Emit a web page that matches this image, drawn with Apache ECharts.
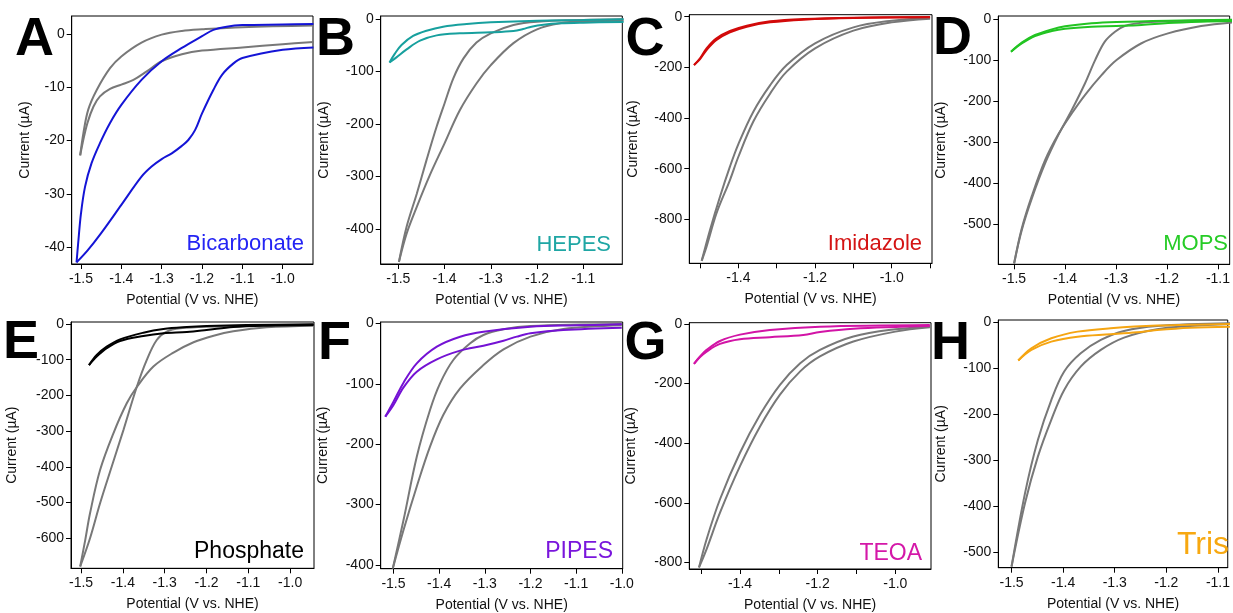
<!DOCTYPE html>
<html><head><meta charset="utf-8">
<script src="https://cdn.jsdelivr.net/npm/echarts@6/dist/echarts.min.js"></script>
<style>html,body{margin:0;padding:0;background:#fff}#c{width:1233px;height:613px}</style>
</head><body><div id="c"></div>
<script>
// ---------- DATA (V vs NHE, µA) ----------
// A – Bicarbonate
const bicarbFwd = [[-0.924,-2.5],[-1.0,-2.95],[-1.1,-4.5],[-1.122,-5.5],[-1.15,-7.6],[-1.172,-10.5],[-1.2,-14.9],[-1.217,-18],[-1.234,-19.9],[-1.25,-21],[-1.275,-22.4],[-1.3,-23.5],[-1.325,-24.9],[-1.35,-26.8],[-1.4,-32.1],[-1.45,-37.4],[-1.483,-40.6],[-1.511,-42.9]];
const bicarbRev = [[-1.511,-42.9],[-1.507,-39.3],[-1.5,-33.7],[-1.49,-28.7],[-1.474,-24.3],[-1.453,-20.5],[-1.428,-16.7],[-1.4,-13.3],[-1.35,-8.6],[-1.3,-5.1],[-1.25,-2.6],[-1.2,-0.4],[-1.172,0.8],[-1.139,1.4],[-1.1,1.7],[-1.0,1.8],[-0.924,1.9]];
const bicarbGrayFwd = [[-0.924,-1.5],[-1.0,-1.9],[-1.1,-2.5],[-1.2,-3.1],[-1.25,-3.8],[-1.3,-5.1],[-1.337,-7.0],[-1.37,-8.6],[-1.4,-9.5],[-1.428,-10.3],[-1.453,-11.7],[-1.469,-13.6],[-1.484,-16.7],[-1.496,-20.5],[-1.502,-22.8]];
const bicarbGrayRev = [[-1.502,-22.8],[-1.494,-18.6],[-1.482,-14.2],[-1.461,-10.5],[-1.428,-6.4],[-1.4,-4.2],[-1.35,-1.6],[-1.3,-0.1],[-1.25,0.6],[-1.2,0.9],[-1.1,1.3],[-0.924,1.6]];
// B – HEPES
const hepesFwd = [[-1.013,-5.7],[-1.1,-7.0],[-1.15,-8.3],[-1.186,-10.8],[-1.212,-14.6],[-1.23,-19.1],[-1.251,-22.9],[-1.3,-25.4],[-1.367,-27.3],[-1.417,-31.2],[-1.453,-41.3],[-1.482,-57.9],[-1.504,-73.1],[-1.519,-83]];
const hepesRev = [[-1.519,-83],[-1.507,-65.5],[-1.493,-49.6],[-1.468,-32.4],[-1.439,-22.3],[-1.403,-14.6],[-1.352,-9.5],[-1.3,-6.4],[-1.2,-3.2],[-1.1,-1.9],[-1.013,-0.6]];
const hepesGray1 = [[-1.4986,-463],[-1.482,-396],[-1.46,-333],[-1.439,-269],[-1.417,-205],[-1.4,-161],[-1.381,-113],[-1.359,-75],[-1.331,-45],[-1.3,-27.3],[-1.251,-11.4],[-1.2,-5.1],[-1.1,-1.9],[-1.013,-0.6]];
const hepesGray2 = [[-1.4986,-463],[-1.482,-409],[-1.46,-358],[-1.432,-298],[-1.4,-237],[-1.367,-174],[-1.331,-123],[-1.3,-88],[-1.251,-46],[-1.2,-19.7],[-1.15,-8.3],[-1.1,-4.5],[-1.013,-3.2]];
// C – Imidazole
const imidFwd = [[-1.5157,-191],[-1.5,-167],[-1.483,-131.6],[-1.457,-92],[-1.422,-62],[-1.378,-39.5],[-1.317,-22.4],[-1.23,-11.8],[-1.1,-5.3],[-0.9,-2.6]];
const imidRev = [[-1.5157,-191],[-1.5,-164],[-1.483,-125],[-1.457,-85.5],[-1.422,-56.6],[-1.378,-35.5],[-1.317,-18.4],[-1.23,-9.2],[-1.1,-3.9],[-0.9,-1.3]];
const imidGray1 = [[-1.4957,-964],[-1.474,-842],[-1.448,-711],[-1.422,-592],[-1.4,-503],[-1.361,-375],[-1.317,-270],[-1.274,-191],[-1.2,-105],[-1.1,-42],[-1.0,-15.8],[-0.9,-3.9]];
const imidGray2 = [[-1.4957,-964],[-1.483,-908],[-1.457,-776],[-1.422,-645],[-1.4,-553],[-1.361,-414],[-1.317,-303],[-1.274,-217],[-1.2,-125],[-1.1,-55],[-1.0,-22.4],[-0.9,-7.9]];
// D – MOPS
const mopsFwd = [[-1.506,-79.5],[-1.485,-59.3],[-1.459,-41.4],[-1.426,-29.2],[-1.4,-23.5],[-1.348,-18.7],[-1.299,-17],[-1.25,-14.6],[-1.198,-9.7],[-1.133,-6.5],[-1.071,-4.9]];
const mopsRev = [[-1.506,-79.5],[-1.485,-57.6],[-1.459,-39],[-1.426,-25.2],[-1.4,-17.9],[-1.348,-10.6],[-1.299,-7.3],[-1.198,-4.1],[-1.071,-1.6]];
const mopsGray1 = [[-1.5,-595],[-1.485,-514],[-1.465,-436],[-1.439,-351],[-1.413,-282],[-1.387,-222],[-1.361,-157],[-1.341,-100],[-1.322,-55],[-1.302,-31],[-1.283,-17],[-1.25,-8.9],[-1.198,-5.7],[-1.071,-2.4]];
const mopsGray2 = [[-1.5,-595],[-1.485,-510],[-1.465,-430],[-1.439,-343],[-1.413,-280],[-1.387,-230],[-1.361,-185],[-1.328,-136],[-1.299,-100],[-1.25,-59],[-1.198,-35],[-1.133,-17],[-1.071,-8.1]];
// E – Phosphate
const phosFwd = [[-1.481,-115],[-1.4625,-91.4],[-1.4386,-68],[-1.4067,-47.6],[-1.351,-33.6],[-1.303,-26.1],[-1.247,-22.4],[-1.2,-16.8],[-1.136,-8.4],[-1.056,-4.7],[-0.944,-2.8]];
const phosRev = [[-1.481,-115],[-1.4625,-86.8],[-1.4386,-63.5],[-1.4067,-42.9],[-1.351,-24.3],[-1.303,-14],[-1.247,-8.4],[-1.2,-5.6],[-1.104,-2.8],[-0.944,-0.9]];
const phosGray1 = [[-1.502,-679],[-1.4785,-600],[-1.4545,-502],[-1.4266,-399],[-1.3987,-297],[-1.367,-177],[-1.343,-101],[-1.319,-44.8],[-1.295,-21.5],[-1.263,-12.1],[-1.2,-7.5],[-0.944,-1.9]];
const phosGray2 = [[-1.502,-679],[-1.49,-605],[-1.4785,-530],[-1.4545,-409],[-1.4226,-306],[-1.3907,-222],[-1.367,-177],[-1.327,-119],[-1.279,-80],[-1.231,-51],[-1.183,-32.7],[-1.136,-20.5],[-1.056,-9.3],[-0.944,-4.7]];
// F – PIPES
const pipesFwd = [[-1.518,-154.5],[-1.5,-135],[-1.478,-106],[-1.449,-80],[-1.405,-59.6],[-1.354,-45.2],[-1.303,-37],[-1.259,-28.7],[-1.23,-22],[-1.2,-16.6],[-1.128,-11],[-1.0,-7.2]];
const pipesRev = [[-1.518,-154.5],[-1.5,-129.7],[-1.478,-98.2],[-1.449,-66.2],[-1.405,-38.6],[-1.354,-22.1],[-1.303,-13.8],[-1.2,-5.5],[-1.099,-3.3],[-1.0,-1.7]];
const pipesGray1 = [[-1.5015,-405.5],[-1.478,-325.5],[-1.449,-220.7],[-1.42,-143.4],[-1.398,-99.3],[-1.369,-60.7],[-1.332,-33.1],[-1.303,-19.3],[-1.259,-9.9],[-1.2,-4.4],[-1.0,-1.1]];
const pipesGray2 = [[-1.5015,-405.5],[-1.478,-342],[-1.449,-270],[-1.42,-204],[-1.391,-151.7],[-1.354,-107.6],[-1.303,-69],[-1.259,-43],[-1.2,-22],[-1.128,-9.4],[-1.0,-3.3]];
// G – TEOA
const teoaFwd = [[-1.5185,-133.7],[-1.503,-111],[-1.486,-92.5],[-1.4515,-66.9],[-1.4,-51.3],[-1.323,-44.6],[-1.237,-36.8],[-1.194,-26.7],[-1.108,-15.6],[-0.911,-6.7]];
const teoaRev = [[-1.5185,-133.7],[-1.503,-109],[-1.486,-87],[-1.4515,-57],[-1.4,-35.7],[-1.323,-20],[-1.194,-8.9],[-0.911,-3.3]];
const teoaGray1 = [[-1.5056,-816.7],[-1.486,-722],[-1.4515,-588],[-1.4,-432],[-1.348,-304],[-1.297,-204],[-1.245,-131.5],[-1.194,-87],[-1.108,-42],[-1.0,-17.8],[-0.911,-8.9]];
const teoaGray2 = [[-1.5056,-816.7],[-1.486,-755],[-1.4515,-633],[-1.4,-477],[-1.348,-343],[-1.297,-237],[-1.245,-159],[-1.194,-109],[-1.108,-59],[-1.0,-25.6],[-0.911,-11.1]];
// H – Tris
const trisFwd = [[-1.487,-83],[-1.4616,-60],[-1.423,-42],[-1.372,-31.2],[-1.308,-26.1],[-1.257,-21.7],[-1.218,-16.7],[-1.154,-11.6],[-1.075,-9.4]];
const trisRev = [[-1.487,-83],[-1.4616,-56.5],[-1.423,-34.8],[-1.372,-20.3],[-1.308,-13],[-1.218,-7.2],[-1.075,-3.6]];
const trisGray1 = [[-1.5,-531],[-1.474,-372],[-1.449,-256],[-1.423,-169],[-1.398,-107],[-1.366,-67.4],[-1.327,-38.4],[-1.282,-18.8],[-1.218,-8],[-1.075,-2.2]];
const trisGray2 = [[-1.5,-531],[-1.474,-393.5],[-1.449,-292],[-1.423,-212],[-1.398,-147],[-1.366,-96.4],[-1.327,-60],[-1.282,-33.3],[-1.218,-15.2],[-1.154,-8],[-1.075,-3.6]];

// ---------- TICK LABELS ----------
const xTicksA = [-1.5,-1.4,-1.3,-1.2,-1.1,-1.0], yTicksA = [-40,-30,-20,-10,0];
const xTicksB = [-1.5,-1.4,-1.3,-1.2,-1.1], yTicksB = [-400,-300,-200,-100,0];
const xTicksC = [-1.4,-1.2,-1.0], xMinorC = [-1.5,-1.3,-1.1,-0.9], yTicksC = [-800,-600,-400,-200,0];
const xTicksD = [-1.5,-1.4,-1.3,-1.2,-1.1], yTicksD = [-500,-400,-300,-200,-100,0];
const xTicksE = [-1.5,-1.4,-1.3,-1.2,-1.1,-1.0], yTicksE = [-600,-500,-400,-300,-200,-100,0];
const xTicksF = [-1.5,-1.4,-1.3,-1.2,-1.1,-1.0], yTicksF = [-400,-300,-200,-100,0];
const xTicksG = [-1.4,-1.2,-1.0], xMinorG = [-1.5,-1.3,-1.1,-0.9], yTicksG = [-800,-600,-400,-200,0];
const xTicksH = [-1.5,-1.4,-1.3,-1.2,-1.1], yTicksH = [-500,-400,-300,-200,-100,0];

const labels = ['Bicarbonate','HEPES','Imidazole','MOPS','Phosphate','PIPES','TEOA','Tris'];
const letters = ['A','B','C','D','E','F','G','H'];

// ---------- LAYOUT ----------
const FONT = "'Liberation Sans', Arial, Helvetica, sans-serif";
const GRAY = '#787878';
const panels = [
  {g:[71.7,16,241.3,248], x:[-1.523,-0.925], y:[-43.2,3.4], xt:xTicksA, yt:yTicksA, gap:40, color:'#1414d6', tcolor:'#2424f4', curves:[bicarbGrayFwd,bicarbGrayRev], col:[bicarbFwd,bicarbRev], lab:[304,244,22], let:[15,40]},
  {g:[380.7,16,241.6,248], x:[-1.538,-1.0157], y:[-467,5.7], xt:xTicksB, yt:yTicksB, gap:50, color:'#17a09e', tcolor:'#1fa6a4', curves:[hepesGray1,hepesGray2], col:[hepesFwd,hepesRev], lab:[611,244.5,22], let:[316,40.5]},
  {g:[689.3,14.7,242.7,248.6], x:[-1.528,-0.895], y:[-973.7,7.9], xt:xTicksC, xm:xMinorC, yt:yTicksC, gap:49, color:'#d20a0a', tcolor:'#d41414', curves:[imidGray1,imidGray2], col:[imidFwd,imidRev], lab:[922,244,22], let:[625.5,40.5]},
  {g:[998.3,16,231.7,248.3], x:[-1.531,-1.077], y:[-597,7.3], xt:xTicksD, yt:yTicksD, gap:50, color:'#22c422', tcolor:'#26cc26', curves:[mopsGray1,mopsGray2], col:[mopsFwd,mopsRev], lab:[1228,244,22], let:[933,39.5]},
  {g:[71,322,243,246.3], x:[-1.524,-0.943], y:[-684,5.6], xt:xTicksE, yt:yTicksE, gap:52, color:'#000000', tcolor:'#000000', curves:[phosGray1,phosGray2], col:[phosFwd,phosRev], lab:[304,551.5,23], let:[3,343]},
  {g:[380.7,322,242,246.7], x:[-1.528,-0.998], y:[-406,2.2], xt:xTicksF, yt:yTicksF, gap:51, color:'#7412d4', tcolor:'#7a16dc', curves:[pipesGray1,pipesGray2], col:[pipesFwd,pipesRev], lab:[613,551.5,23], let:[318,344]},
  {g:[689.3,322.7,241.7,247.3], x:[-1.5306,-0.908], y:[-822,4.3], xt:xTicksG, xm:xMinorG, yt:yTicksG, gap:51, color:'#d214a6', tcolor:'#d418a8', curves:[teoaGray1,teoaGray2], col:[teoaFwd,teoaRev], lab:[922,553.5,23], let:[624.5,344.5]},
  {g:[998.3,320,231.7,247.7], x:[-1.5257,-1.081], y:[-533.5,5], xt:xTicksH, yt:yTicksH, gap:50, color:'#f5a512', tcolor:'#f7a810', curves:[trisGray1,trisGray2], col:[trisFwd,trisRev], lab:[1229,545,32], let:[931,344]}
];

const grid = [], xAxis = [], yAxis = [], series = [], graphic = [];
panels.forEach((p, i) => {
  grid.push({left:p.g[0], top:p.g[1], width:p.g[2], height:p.g[3], show:true, borderColor:'#000', borderWidth:1, backgroundColor:'transparent'});
  const tickVals = p.xm ? p.xt.concat(p.xm) : p.xt;
  xAxis.push({
    type:'value', gridIndex:i, min:p.x[0], max:p.x[1], position:'bottom',
    name:'Potential (V vs. NHE)', nameLocation:'middle', nameGap:29,
    nameTextStyle:{fontFamily:FONT, fontSize:14, color:'#111'},
    axisLine:{show:true, onZero:false, lineStyle:{color:'#000', width:1}},
    axisTick:{show:true, inside:false, length:5, customValues:tickVals, lineStyle:{color:'#000'}},
    axisLabel:{show:true, customValues:p.xt, margin:8, fontFamily:FONT, fontSize:14, color:'#111', formatter:v => Number(v).toFixed(1)},
    splitLine:{show:false}
  });
  yAxis.push({
    type:'value', gridIndex:i, min:p.y[0], max:p.y[1],
    name:'Current (µA)', nameLocation:'middle', nameGap:p.gap,
    nameTextStyle:{fontFamily:FONT, fontSize:14, color:'#111'},
    axisLine:{show:true, onZero:false, lineStyle:{color:'#000', width:1}},
    axisTick:{show:true, inside:false, length:5, customValues:p.yt, lineStyle:{color:'#000'}},
    axisLabel:{show:true, customValues:p.yt, margin:7, fontFamily:FONT, fontSize:14, color:'#111', formatter:v => String(Math.round(v))},
    splitLine:{show:false}
  });
  p.curves.forEach(d => series.push({type:'line', xAxisIndex:i, yAxisIndex:i, data:d, showSymbol:false, smooth:0.35, lineStyle:{color:GRAY, width:2}, silent:true, animation:false}));
  p.col.forEach(d => series.push({type:'line', xAxisIndex:i, yAxisIndex:i, data:d, showSymbol:false, smooth:0.35, lineStyle:{color:p.color, width:2}, silent:true, animation:false}));
  graphic.push({type:'text', x:p.let[0], y:p.let[1], z:100, style:{text:letters[i], font:'bold 54px ' + FONT, fill:'#000', textAlign:'left', textVerticalAlign:'middle'}});
  graphic.push({type:'text', x:p.lab[0], y:p.lab[1], z:100, style:{text:labels[i], font:p.lab[2] + 'px ' + FONT, fill:p.tcolor, textAlign:'right', textVerticalAlign:'middle'}});
});

const chart = echarts.init(document.getElementById('c'), null, {renderer:'canvas'});
chart.setOption({animation:false, backgroundColor:'#fff', grid, xAxis, yAxis, series, graphic});
</script>
</body></html>
